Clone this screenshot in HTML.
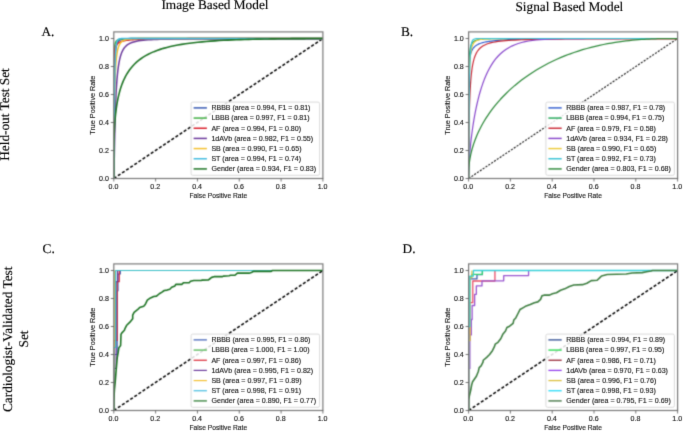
<!DOCTYPE html>
<html><head><meta charset="utf-8"><title>ROC curves</title>
<style>
html,body{margin:0;padding:0;background:#fff;}
body{width:685px;height:435px;overflow:hidden;}
svg{display:block;}
.tk{font-family:"Liberation Sans", sans-serif;font-size:6.9px;fill:#1a1a1a;stroke:#1a1a1a;stroke-width:0.14px;}
.al{font-family:"Liberation Sans", sans-serif;font-size:6.8px;fill:#1a1a1a;stroke:#1a1a1a;stroke-width:0.14px;}
.al2{font-family:"Liberation Sans", sans-serif;font-size:6.4px;fill:#1a1a1a;stroke:#1a1a1a;stroke-width:0.14px;}
.lg{font-family:"Liberation Sans", sans-serif;font-size:6.8px;fill:#1a1a1a;stroke:#1a1a1a;stroke-width:0.14px;}
.ti{font-family:"Liberation Serif", serif;font-size:13.3px;fill:#000;stroke:#000;stroke-width:0.15px;}
.ti2{font-size:13.3px;}
.ti{text-rendering:geometricPrecision;}
</style></head>
<body>
<svg width="685" height="435" viewBox="0 0 685 435">
<defs><filter id="soft" x="0" y="0" width="685" height="435" filterUnits="userSpaceOnUse" color-interpolation-filters="sRGB"><feConvolveMatrix order="3" kernelMatrix="1 4 1 4 16 4 1 4 1" divisor="36" edgeMode="duplicate"/></filter></defs>
<filter id="softt" x="0" y="0" width="685" height="435" filterUnits="userSpaceOnUse" color-interpolation-filters="sRGB"><feConvolveMatrix order="3" kernelMatrix="0 1 0 1 8 1 0 1 0" divisor="12" edgeMode="duplicate"/></filter>
<g filter="url(#soft)">
<rect width="685" height="435" fill="#fff"/>
<clipPath id="clipA"><rect x="113.80" y="31.90" width="209.10" height="146.60"/></clipPath>
<g clip-path="url(#clipA)">
<line x1="113.80" y1="178.50" x2="322.90" y2="38.50" stroke="#000" stroke-width="1.50" stroke-dasharray="3.10 1.85"/>
<path d="M113.80,178.50L113.80,178.34L113.80,178.28L113.80,178.19L113.80,178.08L113.80,177.93L113.80,177.73L113.80,177.47L113.80,177.14L113.80,176.72L113.80,176.19L113.80,175.53L113.81,174.72L113.81,173.74L113.81,172.55L113.81,171.13L113.81,169.45L113.82,167.50L113.82,165.24L113.83,162.65L113.83,159.72L113.84,156.44L113.85,152.81L113.86,148.82L113.87,144.50L113.88,139.85L113.90,134.91L113.92,129.72L113.94,124.31L113.97,118.74L114.00,113.07L114.04,107.35L114.09,101.64L114.14,96.00L114.20,90.50L114.27,85.17L114.36,80.07L114.45,75.25L114.56,70.73L114.69,66.54L114.83,62.69L115.00,59.20L115.19,56.06L115.40,53.27L115.65,50.82L115.92,48.68L116.23,46.84L116.58,45.27L116.97,43.95L117.41,42.84L117.90,41.93L118.44,41.19L119.05,40.58L119.72,40.10L120.45,39.72L121.27,39.42L122.16,39.18L123.13,39.01L124.20,38.87L125.36,38.77L126.62,38.69L127.98,38.64L129.46,38.60L131.05,38.57L132.76,38.55L134.59,38.53L136.54,38.52L138.63,38.51L140.85,38.51L143.20,38.51L145.68,38.50L148.30,38.50L151.06,38.50L153.95,38.50L156.97,38.50L160.13,38.50L163.41,38.50L166.82,38.50L170.35,38.50L173.99,38.50L177.73,38.50L181.58,38.50L185.52,38.50L189.54,38.50L193.64,38.50L197.80,38.50L202.01,38.50L206.27,38.50L210.56,38.50L214.87,38.50L219.19,38.50L223.51,38.50L227.81,38.50L232.09,38.50L236.33,38.50L240.53,38.50L244.66,38.50L248.73,38.50L252.72,38.50L256.63,38.50L260.44,38.50L264.14,38.50L267.74,38.50L271.22,38.50L274.58,38.50L277.81,38.50L280.92,38.50L283.89,38.50L286.73,38.50L289.43,38.50L292.00,38.50L294.43,38.50L296.73,38.50L298.90,38.50L300.93,38.50L302.84,38.50L304.62,38.50L306.28,38.50L307.83,38.50L309.26,38.50L310.58,38.50L311.80,38.50L312.93,38.50L313.96,38.50L314.90,38.50L315.76,38.50L316.54,38.50L317.25,38.50L317.89,38.50L318.47,38.50L319.00,38.50L319.46,38.50L319.88,38.50L320.26,38.50L320.59,38.50L320.89,38.50L321.15,38.50L321.38,38.50L321.59,38.50L321.77,38.50L321.93,38.50L322.90,38.50" fill="none" stroke="#3a5cb4" stroke-width="1.50" stroke-linejoin="round"/>
<path d="M113.80,178.50L113.80,150.53L113.80,147.94L113.80,145.22L113.80,142.36L113.80,139.38L113.80,136.29L113.80,133.10L113.80,129.81L113.80,126.43L113.80,122.98L113.80,119.48L113.81,115.93L113.81,112.35L113.81,108.75L113.81,105.15L113.81,101.57L113.82,98.01L113.82,94.50L113.83,91.04L113.83,87.66L113.84,84.35L113.85,81.14L113.86,78.04L113.87,75.04L113.88,72.17L113.90,69.43L113.92,66.82L113.94,64.34L113.97,62.01L114.00,59.81L114.04,57.76L114.09,55.84L114.14,54.06L114.20,52.42L114.27,50.91L114.36,49.52L114.45,48.25L114.56,47.10L114.69,46.06L114.83,45.12L115.00,44.28L115.19,43.52L115.40,42.85L115.65,42.26L115.92,41.73L116.23,41.27L116.58,40.86L116.97,40.51L117.41,40.20L117.90,39.94L118.44,39.71L119.05,39.51L119.72,39.35L120.45,39.20L121.27,39.08L122.16,38.98L123.13,38.90L124.20,38.82L125.36,38.76L126.62,38.71L127.98,38.67L129.46,38.64L131.05,38.61L132.76,38.59L134.59,38.57L136.54,38.56L138.63,38.55L140.85,38.54L143.20,38.53L145.68,38.52L148.30,38.52L151.06,38.51L153.95,38.51L156.97,38.51L160.13,38.51L163.41,38.50L166.82,38.50L170.35,38.50L173.99,38.50L177.73,38.50L181.58,38.50L185.52,38.50L189.54,38.50L193.64,38.50L197.80,38.50L202.01,38.50L206.27,38.50L210.56,38.50L214.87,38.50L219.19,38.50L223.51,38.50L227.81,38.50L232.09,38.50L236.33,38.50L240.53,38.50L244.66,38.50L248.73,38.50L252.72,38.50L256.63,38.50L260.44,38.50L264.14,38.50L267.74,38.50L271.22,38.50L274.58,38.50L277.81,38.50L280.92,38.50L283.89,38.50L286.73,38.50L289.43,38.50L292.00,38.50L294.43,38.50L296.73,38.50L298.90,38.50L300.93,38.50L302.84,38.50L304.62,38.50L306.28,38.50L307.83,38.50L309.26,38.50L310.58,38.50L311.80,38.50L312.93,38.50L313.96,38.50L314.90,38.50L315.76,38.50L316.54,38.50L317.25,38.50L317.89,38.50L318.47,38.50L319.00,38.50L319.46,38.50L319.88,38.50L320.26,38.50L320.59,38.50L320.89,38.50L321.15,38.50L321.38,38.50L321.59,38.50L321.77,38.50L321.93,38.50L322.90,38.50" fill="none" stroke="#42b045" stroke-width="1.50" stroke-linejoin="round"/>
<path d="M113.80,178.50L113.80,118.51L113.80,116.26L113.80,114.00L113.80,111.73L113.80,109.46L113.80,107.18L113.80,104.90L113.80,102.64L113.80,100.38L113.80,98.13L113.80,95.90L113.81,93.69L113.81,91.51L113.81,89.35L113.81,87.23L113.81,85.14L113.82,83.08L113.82,81.06L113.83,79.09L113.83,77.16L113.84,75.27L113.85,73.44L113.86,71.65L113.87,69.91L113.88,68.23L113.90,66.60L113.92,65.03L113.94,63.51L113.97,62.05L114.00,60.64L114.04,59.29L114.09,58.00L114.14,56.76L114.20,55.58L114.27,54.45L114.36,53.38L114.45,52.36L114.56,51.39L114.69,50.47L114.83,49.60L115.00,48.78L115.19,48.01L115.40,47.29L115.65,46.60L115.92,45.96L116.23,45.36L116.58,44.80L116.97,44.28L117.41,43.79L117.90,43.34L118.44,42.92L119.05,42.53L119.72,42.17L120.45,41.84L121.27,41.53L122.16,41.24L123.13,40.98L124.20,40.74L125.36,40.53L126.62,40.33L127.98,40.14L129.46,39.98L131.05,39.82L132.76,39.69L134.59,39.56L136.54,39.45L138.63,39.34L140.85,39.25L143.20,39.17L145.68,39.09L148.30,39.03L151.06,38.96L153.95,38.91L156.97,38.86L160.13,38.82L163.41,38.78L166.82,38.75L170.35,38.72L173.99,38.69L177.73,38.67L181.58,38.64L185.52,38.63L189.54,38.61L193.64,38.60L197.80,38.58L202.01,38.57L206.27,38.56L210.56,38.55L214.87,38.55L219.19,38.54L223.51,38.53L227.81,38.53L232.09,38.52L236.33,38.52L240.53,38.52L244.66,38.52L248.73,38.51L252.72,38.51L256.63,38.51L260.44,38.51L264.14,38.51L267.74,38.51L271.22,38.50L274.58,38.50L277.81,38.50L280.92,38.50L283.89,38.50L286.73,38.50L289.43,38.50L292.00,38.50L294.43,38.50L296.73,38.50L298.90,38.50L300.93,38.50L302.84,38.50L304.62,38.50L306.28,38.50L307.83,38.50L309.26,38.50L310.58,38.50L311.80,38.50L312.93,38.50L313.96,38.50L314.90,38.50L315.76,38.50L316.54,38.50L317.25,38.50L317.89,38.50L318.47,38.50L319.00,38.50L319.46,38.50L319.88,38.50L320.26,38.50L320.59,38.50L320.89,38.50L321.15,38.50L321.38,38.50L321.59,38.50L321.77,38.50L321.93,38.50L322.90,38.50" fill="none" stroke="#da2430" stroke-width="1.50" stroke-linejoin="round"/>
<path d="M113.80,178.50L113.80,178.50L113.80,178.50L113.80,178.50L113.80,178.50L113.80,178.50L113.80,178.50L113.80,178.50L113.80,178.50L113.80,178.50L113.80,178.50L113.80,178.50L113.81,178.50L113.81,178.50L113.81,178.50L113.81,178.50L113.81,178.50L113.82,178.50L113.82,178.49L113.83,178.48L113.83,178.47L113.84,178.44L113.85,178.39L113.86,178.29L113.87,178.15L113.88,177.91L113.90,177.55L113.92,177.01L113.94,176.24L113.97,175.18L114.00,173.75L114.04,171.89L114.09,169.53L114.14,166.61L114.20,163.11L114.27,159.01L114.36,154.31L114.45,149.05L114.56,143.29L114.69,137.11L114.83,130.60L115.00,123.89L115.19,117.07L115.40,110.27L115.65,103.59L115.92,97.12L116.23,90.94L116.58,85.12L116.97,79.70L117.41,74.70L117.90,70.15L118.44,66.04L119.05,62.37L119.72,59.11L120.45,56.23L121.27,53.72L122.16,51.54L123.13,49.65L124.20,48.02L125.36,46.62L126.62,45.43L127.98,44.42L129.46,43.55L131.05,42.82L132.76,42.20L134.59,41.68L136.54,41.24L138.63,40.86L140.85,40.55L143.20,40.28L145.68,40.06L148.30,39.86L151.06,39.70L153.95,39.57L156.97,39.45L160.13,39.35L163.41,39.27L166.82,39.20L170.35,39.14L173.99,39.09L177.73,39.04L181.58,39.01L185.52,38.98L189.54,38.95L193.64,38.93L197.80,38.91L202.01,38.90L206.27,38.89L210.56,38.89L214.87,38.88L219.19,38.88L223.51,38.88L227.81,38.88L232.09,38.88L236.33,38.88L240.53,38.88L244.66,38.88L248.73,38.88L252.72,38.88L256.63,38.88L260.44,38.88L264.14,38.88L267.74,38.88L271.22,38.88L274.58,38.88L277.81,38.88L280.92,38.88L283.89,38.88L286.73,38.88L289.43,38.88L292.00,38.88L294.43,38.88L296.73,38.88L298.90,38.88L300.93,38.88L302.84,38.88L304.62,38.88L306.28,38.88L307.83,38.88L309.26,38.88L310.58,38.88L311.80,38.88L312.93,38.88L313.96,38.88L314.90,38.88L315.76,38.88L316.54,38.88L317.25,38.88L317.89,38.88L318.47,38.88L319.00,38.88L319.46,38.88L319.88,38.88L320.26,38.88L320.59,38.88L320.89,38.88L321.15,38.88L321.38,38.88L321.59,38.88L321.77,38.88L321.93,38.88L322.90,38.50" fill="none" stroke="#6c3a9c" stroke-width="1.50" stroke-linejoin="round"/>
<path d="M113.80,178.50L113.80,178.47L113.80,178.46L113.80,178.44L113.80,178.41L113.80,178.38L113.80,178.33L113.80,178.26L113.80,178.17L113.80,178.05L113.80,177.88L113.80,177.68L113.81,177.40L113.81,177.06L113.81,176.62L113.81,176.07L113.81,175.39L113.82,174.56L113.82,173.55L113.83,172.34L113.83,170.89L113.84,169.20L113.85,167.22L113.86,164.94L113.87,162.33L113.88,159.39L113.90,156.11L113.92,152.48L113.94,148.50L113.97,144.19L114.00,139.56L114.04,134.65L114.09,129.49L114.14,124.13L114.20,118.61L114.27,112.99L114.36,107.32L114.45,101.66L114.56,96.07L114.69,90.61L114.83,85.33L115.00,80.27L115.19,75.48L115.40,70.98L115.65,66.80L115.92,62.97L116.23,59.48L116.58,56.34L116.97,53.54L117.41,51.08L117.90,48.92L118.44,47.06L119.05,45.47L119.72,44.13L120.45,43.00L121.27,42.07L122.16,41.31L123.13,40.68L124.20,40.18L125.36,39.79L126.62,39.47L127.98,39.23L129.46,39.04L131.05,38.90L132.76,38.79L134.59,38.71L136.54,38.65L138.63,38.61L140.85,38.57L143.20,38.55L145.68,38.54L148.30,38.52L151.06,38.52L153.95,38.51L156.97,38.51L160.13,38.50L163.41,38.50L166.82,38.50L170.35,38.50L173.99,38.50L177.73,38.50L181.58,38.50L185.52,38.50L189.54,38.50L193.64,38.50L197.80,38.50L202.01,38.50L206.27,38.50L210.56,38.50L214.87,38.50L219.19,38.50L223.51,38.50L227.81,38.50L232.09,38.50L236.33,38.50L240.53,38.50L244.66,38.50L248.73,38.50L252.72,38.50L256.63,38.50L260.44,38.50L264.14,38.50L267.74,38.50L271.22,38.50L274.58,38.50L277.81,38.50L280.92,38.50L283.89,38.50L286.73,38.50L289.43,38.50L292.00,38.50L294.43,38.50L296.73,38.50L298.90,38.50L300.93,38.50L302.84,38.50L304.62,38.50L306.28,38.50L307.83,38.50L309.26,38.50L310.58,38.50L311.80,38.50L312.93,38.50L313.96,38.50L314.90,38.50L315.76,38.50L316.54,38.50L317.25,38.50L317.89,38.50L318.47,38.50L319.00,38.50L319.46,38.50L319.88,38.50L320.26,38.50L320.59,38.50L320.89,38.50L321.15,38.50L321.38,38.50L321.59,38.50L321.77,38.50L321.93,38.50L322.90,38.50" fill="none" stroke="#f4c030" stroke-width="1.50" stroke-linejoin="round"/>
<path d="M113.80,178.50L113.80,178.50L113.80,178.50L113.80,178.50L113.80,178.50L113.80,178.50L113.80,178.50L113.80,178.50L113.80,178.50L113.80,178.50L113.80,178.50L113.80,178.50L113.81,178.50L113.81,178.49L113.81,178.49L113.81,178.47L113.81,178.45L113.82,178.41L113.82,178.34L113.83,178.22L113.83,178.02L113.84,177.72L113.85,177.26L113.86,176.56L113.87,175.56L113.88,174.16L113.90,172.24L113.92,169.68L113.94,166.38L113.97,162.23L114.00,157.16L114.04,151.15L114.09,144.20L114.14,136.40L114.20,127.88L114.27,118.84L114.36,109.52L114.45,100.17L114.56,91.05L114.69,82.40L114.83,74.43L115.00,67.29L115.19,61.07L115.40,55.79L115.65,51.45L115.92,47.97L116.23,45.26L116.58,43.21L116.97,41.70L117.41,40.62L117.90,39.87L118.44,39.37L119.05,39.03L119.72,38.82L120.45,38.69L121.27,38.61L122.16,38.56L123.13,38.53L124.20,38.52L125.36,38.51L126.62,38.50L127.98,38.50L129.46,38.50L131.05,38.50L132.76,38.50L134.59,38.50L136.54,38.50L138.63,38.50L140.85,38.50L143.20,38.50L145.68,38.50L148.30,38.50L151.06,38.50L153.95,38.50L156.97,38.50L160.13,38.50L163.41,38.50L166.82,38.50L170.35,38.50L173.99,38.50L177.73,38.50L181.58,38.50L185.52,38.50L189.54,38.50L193.64,38.50L197.80,38.50L202.01,38.50L206.27,38.50L210.56,38.50L214.87,38.50L219.19,38.50L223.51,38.50L227.81,38.50L232.09,38.50L236.33,38.50L240.53,38.50L244.66,38.50L248.73,38.50L252.72,38.50L256.63,38.50L260.44,38.50L264.14,38.50L267.74,38.50L271.22,38.50L274.58,38.50L277.81,38.50L280.92,38.50L283.89,38.50L286.73,38.50L289.43,38.50L292.00,38.50L294.43,38.50L296.73,38.50L298.90,38.50L300.93,38.50L302.84,38.50L304.62,38.50L306.28,38.50L307.83,38.50L309.26,38.50L310.58,38.50L311.80,38.50L312.93,38.50L313.96,38.50L314.90,38.50L315.76,38.50L316.54,38.50L317.25,38.50L317.89,38.50L318.47,38.50L319.00,38.50L319.46,38.50L319.88,38.50L320.26,38.50L320.59,38.50L320.89,38.50L321.15,38.50L321.38,38.50L321.59,38.50L321.77,38.50L321.93,38.50L322.90,38.50" fill="none" stroke="#44bce0" stroke-width="1.50" stroke-linejoin="round"/>
<path d="M113.80,178.50L113.80,158.00L113.80,158.00L113.80,158.00L113.80,158.00L113.80,158.00L113.80,158.00L113.80,158.00L113.80,157.86L113.80,157.66L113.80,157.40L113.80,157.10L113.81,156.74L113.81,156.34L113.81,155.90L113.81,155.40L113.81,154.84L113.82,154.24L113.82,153.58L113.83,152.87L113.83,152.09L113.84,151.26L113.85,150.37L113.86,149.42L113.87,148.41L113.88,147.33L113.90,146.18L113.92,144.97L113.94,143.69L113.97,142.33L114.00,140.91L114.04,139.41L114.09,137.85L114.14,136.21L114.20,134.49L114.27,132.71L114.36,130.86L114.45,128.93L114.56,126.94L114.69,124.88L114.83,122.76L115.00,120.57L115.19,118.33L115.40,116.03L115.65,113.69L115.92,111.30L116.23,108.87L116.58,106.41L116.97,103.92L117.41,101.41L117.90,98.89L118.44,96.36L119.05,93.83L119.72,91.30L120.45,88.79L121.27,86.30L122.16,83.84L123.13,81.42L124.20,79.04L125.36,76.70L126.62,74.42L127.98,72.21L129.46,70.05L131.05,67.97L132.76,65.97L134.59,64.04L136.54,62.19L138.63,60.42L140.85,58.74L143.20,57.15L145.68,55.64L148.30,54.22L151.06,52.88L153.95,51.63L156.97,50.46L160.13,49.37L163.41,48.36L166.82,47.42L170.35,46.56L173.99,45.76L177.73,45.03L181.58,44.36L185.52,43.75L189.54,43.20L193.64,42.70L197.80,42.24L202.01,41.83L206.27,41.46L210.56,41.13L214.87,40.83L219.19,40.56L223.51,40.32L227.81,40.11L232.09,39.92L236.33,39.75L240.53,39.60L244.66,39.47L248.73,39.35L252.72,39.25L256.63,39.16L260.44,39.08L264.14,39.01L267.74,38.95L271.22,38.89L274.58,38.85L277.81,38.81L280.92,38.77L283.89,38.74L286.73,38.71L289.43,38.69L292.00,38.66L294.43,38.65L296.73,38.63L298.90,38.61L300.93,38.60L302.84,38.59L304.62,38.58L306.28,38.57L307.83,38.57L309.26,38.56L310.58,38.55L311.80,38.55L312.93,38.54L313.96,38.54L314.90,38.54L315.76,38.53L316.54,38.53L317.25,38.53L317.89,38.53L318.47,38.53L319.00,38.52L319.46,38.52L319.88,38.52L320.26,38.52L320.59,38.52L320.89,38.52L321.15,38.52L321.38,38.52L321.59,38.52L321.77,38.52L321.93,38.52L322.90,38.50" fill="none" stroke="#1f7526" stroke-width="1.60" stroke-linejoin="round"/>
</g>
<rect x="113.80" y="31.90" width="209.10" height="146.60" fill="none" stroke="#7a7a7a" stroke-width="1.2"/>
<line x1="113.80" y1="178.50" x2="113.80" y2="181.50" stroke="#555" stroke-width="0.8"/>
<line x1="110.80" y1="178.50" x2="113.80" y2="178.50" stroke="#555" stroke-width="0.8"/>
<line x1="155.62" y1="178.50" x2="155.62" y2="181.50" stroke="#555" stroke-width="0.8"/>
<line x1="110.80" y1="150.50" x2="113.80" y2="150.50" stroke="#555" stroke-width="0.8"/>
<line x1="197.44" y1="178.50" x2="197.44" y2="181.50" stroke="#555" stroke-width="0.8"/>
<line x1="110.80" y1="122.50" x2="113.80" y2="122.50" stroke="#555" stroke-width="0.8"/>
<line x1="239.26" y1="178.50" x2="239.26" y2="181.50" stroke="#555" stroke-width="0.8"/>
<line x1="110.80" y1="94.50" x2="113.80" y2="94.50" stroke="#555" stroke-width="0.8"/>
<line x1="281.08" y1="178.50" x2="281.08" y2="181.50" stroke="#555" stroke-width="0.8"/>
<line x1="110.80" y1="66.50" x2="113.80" y2="66.50" stroke="#555" stroke-width="0.8"/>
<line x1="322.90" y1="178.50" x2="322.90" y2="181.50" stroke="#555" stroke-width="0.8"/>
<line x1="110.80" y1="38.50" x2="113.80" y2="38.50" stroke="#555" stroke-width="0.8"/>
<rect x="191.10" y="102.10" width="128.50" height="73.20" rx="1.6" fill="#fff" fill-opacity="0.85" stroke="#d6d6d6" stroke-width="0.9"/>
<line x1="193.60" y1="107.90" x2="206.90" y2="107.90" stroke="#3a5cb4" stroke-width="1.50"/>
<line x1="193.60" y1="118.07" x2="206.90" y2="118.07" stroke="#42b045" stroke-width="1.50"/>
<line x1="193.60" y1="128.24" x2="206.90" y2="128.24" stroke="#da2430" stroke-width="1.50"/>
<line x1="193.60" y1="138.41" x2="206.90" y2="138.41" stroke="#6c3a9c" stroke-width="1.50"/>
<line x1="193.60" y1="148.58" x2="206.90" y2="148.58" stroke="#f4c030" stroke-width="1.50"/>
<line x1="193.60" y1="158.75" x2="206.90" y2="158.75" stroke="#44bce0" stroke-width="1.50"/>
<line x1="193.60" y1="168.92" x2="206.90" y2="168.92" stroke="#1f7526" stroke-width="1.50"/>
<clipPath id="clipB"><rect x="468.60" y="31.90" width="209.00" height="146.60"/></clipPath>
<g clip-path="url(#clipB)">
<line x1="468.60" y1="178.50" x2="677.60" y2="38.50" stroke="#1a1a1a" stroke-width="1.10" stroke-dasharray="2.10 1.30"/>
<path d="M468.60,178.50L468.60,138.83L468.60,136.86L468.60,134.85L468.60,132.80L468.60,130.71L468.60,128.58L468.60,126.42L468.60,124.24L468.60,122.02L468.60,119.79L468.60,117.54L468.61,115.27L468.61,112.99L468.61,110.70L468.61,108.41L468.61,106.12L468.62,103.83L468.62,101.55L468.63,99.28L468.63,97.03L468.64,94.80L468.65,92.59L468.66,90.40L468.67,88.25L468.68,86.12L468.70,84.04L468.72,81.99L468.74,79.98L468.77,78.02L468.80,76.10L468.84,74.23L468.89,72.41L468.94,70.64L469.00,68.92L469.07,67.26L469.16,65.65L469.25,64.10L469.36,62.61L469.49,61.17L469.63,59.79L469.80,58.47L469.99,57.20L470.20,55.99L470.45,54.84L470.72,53.74L471.03,52.69L471.38,51.70L471.77,50.76L472.21,49.87L472.70,49.03L473.24,48.24L473.85,47.50L474.51,46.80L475.25,46.14L476.06,45.53L476.95,44.95L477.93,44.41L478.99,43.91L480.15,43.45L481.41,43.02L482.78,42.62L484.25,42.25L485.84,41.91L487.55,41.59L489.38,41.30L491.33,41.03L493.42,40.79L495.63,40.57L497.98,40.36L500.47,40.17L503.09,40.00L505.84,39.85L508.73,39.71L511.75,39.58L514.91,39.46L518.19,39.36L521.60,39.26L525.12,39.18L528.76,39.10L532.50,39.03L536.35,38.97L540.28,38.92L544.31,38.87L548.40,38.82L552.56,38.78L556.77,38.75L561.03,38.72L565.31,38.69L569.62,38.67L573.94,38.65L578.26,38.63L582.56,38.61L586.83,38.60L591.07,38.58L595.27,38.57L599.40,38.56L603.47,38.55L607.46,38.55L611.36,38.54L615.17,38.53L618.87,38.53L622.46,38.52L625.94,38.52L629.30,38.52L632.53,38.52L635.64,38.51L638.61,38.51L641.45,38.51L644.15,38.51L646.72,38.51L649.15,38.51L651.44,38.50L653.61,38.50L655.64,38.50L657.55,38.50L659.33,38.50L660.99,38.50L662.53,38.50L663.97,38.50L665.29,38.50L666.51,38.50L667.63,38.50L668.66,38.50L669.60,38.50L670.46,38.50L671.24,38.50L671.95,38.50L672.60,38.50L673.18,38.50L673.70,38.50L674.17,38.50L674.59,38.50L674.96,38.50L675.29,38.50L675.59,38.50L675.85,38.50L676.08,38.50L676.29,38.50L676.47,38.50L676.63,38.50L677.60,38.50" fill="none" stroke="#3560d0" stroke-width="1.20" stroke-linejoin="round"/>
<path d="M468.60,178.50L468.60,163.88L468.60,162.17L468.60,160.33L468.60,158.35L468.60,156.23L468.60,153.97L468.60,151.56L468.60,149.02L468.60,146.35L468.60,143.54L468.60,140.60L468.61,137.55L468.61,134.39L468.61,131.13L468.61,127.78L468.61,124.35L468.62,120.86L468.62,117.32L468.63,113.74L468.63,110.14L468.64,106.53L468.65,102.93L468.66,99.36L468.67,95.82L468.68,92.33L468.70,88.91L468.72,85.57L468.74,82.32L468.77,79.16L468.80,76.12L468.84,73.20L468.89,70.40L468.94,67.74L469.00,65.21L469.07,62.82L469.16,60.57L469.25,58.46L469.36,56.49L469.49,54.66L469.63,52.97L469.80,51.41L469.99,49.98L470.20,48.67L470.45,47.48L470.72,46.40L471.03,45.42L471.38,44.55L471.77,43.76L472.21,43.06L472.70,42.44L473.24,41.89L473.85,41.41L474.51,40.99L475.25,40.62L476.06,40.30L476.95,40.02L477.93,39.78L478.99,39.57L480.15,39.39L481.41,39.24L482.78,39.12L484.25,39.01L485.84,38.92L487.55,38.84L489.38,38.78L491.33,38.73L493.42,38.68L495.63,38.65L497.98,38.62L500.47,38.60L503.09,38.58L505.84,38.56L508.73,38.55L511.75,38.54L514.91,38.53L518.19,38.52L521.60,38.52L525.12,38.51L528.76,38.51L532.50,38.51L536.35,38.51L540.28,38.50L544.31,38.50L548.40,38.50L552.56,38.50L556.77,38.50L561.03,38.50L565.31,38.50L569.62,38.50L573.94,38.50L578.26,38.50L582.56,38.50L586.83,38.50L591.07,38.50L595.27,38.50L599.40,38.50L603.47,38.50L607.46,38.50L611.36,38.50L615.17,38.50L618.87,38.50L622.46,38.50L625.94,38.50L629.30,38.50L632.53,38.50L635.64,38.50L638.61,38.50L641.45,38.50L644.15,38.50L646.72,38.50L649.15,38.50L651.44,38.50L653.61,38.50L655.64,38.50L657.55,38.50L659.33,38.50L660.99,38.50L662.53,38.50L663.97,38.50L665.29,38.50L666.51,38.50L667.63,38.50L668.66,38.50L669.60,38.50L670.46,38.50L671.24,38.50L671.95,38.50L672.60,38.50L673.18,38.50L673.70,38.50L674.17,38.50L674.59,38.50L674.96,38.50L675.29,38.50L675.59,38.50L675.85,38.50L676.08,38.50L676.29,38.50L676.47,38.50L676.63,38.50L677.60,38.50" fill="none" stroke="#26a85c" stroke-width="1.20" stroke-linejoin="round"/>
<path d="M468.60,178.50L468.60,178.50L468.60,178.50L468.60,178.50L468.60,178.49L468.60,178.49L468.60,178.48L468.60,178.46L468.60,178.44L468.60,178.41L468.60,178.36L468.60,178.28L468.61,178.18L468.61,178.03L468.61,177.83L468.61,177.56L468.61,177.20L468.62,176.72L468.62,176.12L468.63,175.35L468.63,174.40L468.64,173.24L468.65,171.84L468.66,170.18L468.67,168.24L468.68,165.99L468.70,163.44L468.72,160.57L468.74,157.38L468.77,153.89L468.80,150.10L468.84,146.04L468.89,141.74L468.94,137.23L469.00,132.54L469.07,127.73L469.16,122.82L469.25,117.87L469.36,112.92L469.49,108.00L469.63,103.17L469.80,98.45L469.99,93.87L470.20,89.46L470.45,85.25L470.72,81.24L471.03,77.46L471.38,73.91L471.77,70.59L472.21,67.51L472.70,64.66L473.24,62.04L473.85,59.63L474.51,57.44L475.25,55.44L476.06,53.63L476.95,52.00L477.93,50.53L478.99,49.21L480.15,48.03L481.41,46.97L482.78,46.03L484.25,45.19L485.84,44.44L487.55,43.78L489.38,43.20L491.33,42.68L493.42,42.22L495.63,41.81L497.98,41.45L500.47,41.14L503.09,40.86L505.84,40.61L508.73,40.39L511.75,40.20L514.91,40.03L518.19,39.88L521.60,39.75L525.12,39.63L528.76,39.53L532.50,39.44L536.35,39.36L540.28,39.28L544.31,39.22L548.40,39.16L552.56,39.11L556.77,39.07L561.03,39.03L565.31,39.00L569.62,38.96L573.94,38.94L578.26,38.91L582.56,38.89L586.83,38.87L591.07,38.86L595.27,38.84L599.40,38.83L603.47,38.82L607.46,38.81L611.36,38.80L615.17,38.79L618.87,38.79L622.46,38.78L625.94,38.78L629.30,38.78L632.53,38.78L635.64,38.78L638.61,38.78L641.45,38.78L644.15,38.78L646.72,38.78L649.15,38.78L651.44,38.78L653.61,38.78L655.64,38.78L657.55,38.78L659.33,38.78L660.99,38.78L662.53,38.78L663.97,38.78L665.29,38.78L666.51,38.78L667.63,38.78L668.66,38.78L669.60,38.78L670.46,38.78L671.24,38.78L671.95,38.78L672.60,38.78L673.18,38.78L673.70,38.78L674.17,38.78L674.59,38.78L674.96,38.78L675.29,38.78L675.59,38.78L675.85,38.78L676.08,38.78L676.29,38.78L676.47,38.78L676.63,38.78L677.60,38.50" fill="none" stroke="#cc2c38" stroke-width="1.20" stroke-linejoin="round"/>
<path d="M468.60,178.50L468.60,176.57L468.60,176.53L468.60,176.47L468.60,176.41L468.60,176.34L468.60,176.27L468.60,176.18L468.60,176.08L468.60,175.97L468.60,175.86L468.60,175.72L468.61,175.58L468.61,175.42L468.61,175.24L468.61,175.04L468.61,174.83L468.62,174.59L468.62,174.33L468.63,174.04L468.63,173.73L468.64,173.38L468.65,172.99L468.66,172.57L468.67,172.11L468.68,171.60L468.70,171.05L468.72,170.43L468.74,169.76L468.77,169.03L468.80,168.22L468.84,167.34L468.89,166.38L468.94,165.32L469.00,164.17L469.07,162.92L469.16,161.56L469.25,160.08L469.36,158.47L469.49,156.74L469.63,154.86L469.80,152.85L469.99,150.68L470.20,148.35L470.45,145.87L470.72,143.22L471.03,140.40L471.38,137.43L471.77,134.29L472.21,130.99L472.70,127.53L473.24,123.94L473.85,120.21L474.51,116.35L475.25,112.40L476.06,108.35L476.95,104.25L477.93,100.10L478.99,95.93L480.15,91.76L481.41,87.64L482.78,83.57L484.25,79.60L485.84,75.74L487.55,72.02L489.38,68.46L491.33,65.09L493.42,61.92L495.63,58.97L497.98,56.25L500.47,53.75L503.09,51.49L505.84,49.47L508.73,47.67L511.75,46.09L514.91,44.72L518.19,43.54L521.60,42.54L525.12,41.70L528.76,41.01L532.50,40.44L536.35,39.98L540.28,39.62L544.31,39.33L548.40,39.11L552.56,38.94L556.77,38.82L561.03,38.72L565.31,38.65L569.62,38.61L573.94,38.57L578.26,38.55L582.56,38.53L586.83,38.52L591.07,38.51L595.27,38.51L599.40,38.50L603.47,38.50L607.46,38.50L611.36,38.50L615.17,38.50L618.87,38.50L622.46,38.50L625.94,38.50L629.30,38.50L632.53,38.50L635.64,38.50L638.61,38.50L641.45,38.50L644.15,38.50L646.72,38.50L649.15,38.50L651.44,38.50L653.61,38.50L655.64,38.50L657.55,38.50L659.33,38.50L660.99,38.50L662.53,38.50L663.97,38.50L665.29,38.50L666.51,38.50L667.63,38.50L668.66,38.50L669.60,38.50L670.46,38.50L671.24,38.50L671.95,38.50L672.60,38.50L673.18,38.50L673.70,38.50L674.17,38.50L674.59,38.50L674.96,38.50L675.29,38.50L675.59,38.50L675.85,38.50L676.08,38.50L676.29,38.50L676.47,38.50L676.63,38.50L677.60,38.50" fill="none" stroke="#8848cc" stroke-width="1.20" stroke-linejoin="round"/>
<path d="M468.60,178.50L468.60,177.62L468.60,177.38L468.60,177.09L468.60,176.74L468.60,176.31L468.60,175.79L468.60,175.18L468.60,174.45L468.60,173.60L468.60,172.60L468.60,171.45L468.61,170.12L468.61,168.60L468.61,166.88L468.61,164.95L468.61,162.79L468.62,160.39L468.62,157.76L468.63,154.87L468.63,151.74L468.64,148.37L468.65,144.77L468.66,140.94L468.67,136.90L468.68,132.68L468.70,128.29L468.72,123.77L468.74,119.14L468.77,114.43L468.80,109.67L468.84,104.91L468.89,100.18L468.94,95.51L469.00,90.92L469.07,86.47L469.16,82.16L469.25,78.03L469.36,74.10L469.49,70.38L469.63,66.89L469.80,63.64L469.99,60.64L470.20,57.88L470.45,55.36L470.72,53.09L471.03,51.04L471.38,49.22L471.77,47.60L472.21,46.19L472.70,44.95L473.24,43.87L473.85,42.95L474.51,42.16L475.25,41.50L476.06,40.94L476.95,40.47L477.93,40.08L478.99,39.76L480.15,39.49L481.41,39.28L482.78,39.11L484.25,38.97L485.84,38.87L487.55,38.78L489.38,38.71L491.33,38.66L493.42,38.62L495.63,38.59L497.98,38.57L500.47,38.55L503.09,38.54L505.84,38.53L508.73,38.52L511.75,38.51L514.91,38.51L518.19,38.51L521.60,38.50L525.12,38.50L528.76,38.50L532.50,38.50L536.35,38.50L540.28,38.50L544.31,38.50L548.40,38.50L552.56,38.50L556.77,38.50L561.03,38.50L565.31,38.50L569.62,38.50L573.94,38.50L578.26,38.50L582.56,38.50L586.83,38.50L591.07,38.50L595.27,38.50L599.40,38.50L603.47,38.50L607.46,38.50L611.36,38.50L615.17,38.50L618.87,38.50L622.46,38.50L625.94,38.50L629.30,38.50L632.53,38.50L635.64,38.50L638.61,38.50L641.45,38.50L644.15,38.50L646.72,38.50L649.15,38.50L651.44,38.50L653.61,38.50L655.64,38.50L657.55,38.50L659.33,38.50L660.99,38.50L662.53,38.50L663.97,38.50L665.29,38.50L666.51,38.50L667.63,38.50L668.66,38.50L669.60,38.50L670.46,38.50L671.24,38.50L671.95,38.50L672.60,38.50L673.18,38.50L673.70,38.50L674.17,38.50L674.59,38.50L674.96,38.50L675.29,38.50L675.59,38.50L675.85,38.50L676.08,38.50L676.29,38.50L676.47,38.50L676.63,38.50L677.60,38.50" fill="none" stroke="#ecca3c" stroke-width="1.20" stroke-linejoin="round"/>
<path d="M468.60,178.50L468.60,178.50L468.60,178.50L468.60,178.50L468.60,178.50L468.60,178.50L468.60,178.50L468.60,178.50L468.60,178.50L468.60,178.50L468.60,178.50L468.60,178.49L468.61,178.49L468.61,178.48L468.61,178.46L468.61,178.43L468.61,178.39L468.62,178.31L468.62,178.18L468.63,177.98L468.63,177.67L468.64,177.21L468.65,176.55L468.66,175.61L468.67,174.31L468.68,172.56L468.70,170.26L468.72,167.32L468.74,163.64L468.77,159.16L468.80,153.84L468.84,147.67L468.89,140.70L468.94,133.02L469.00,124.77L469.07,116.12L469.16,107.28L469.25,98.47L469.36,89.92L469.49,81.81L469.63,74.31L469.80,67.55L469.99,61.61L470.20,56.52L470.45,52.27L470.72,48.80L471.03,46.04L471.38,43.91L471.77,42.29L472.21,41.10L472.70,40.24L473.24,39.64L473.85,39.23L474.51,38.96L475.25,38.78L476.06,38.67L476.95,38.60L477.93,38.56L478.99,38.53L480.15,38.52L481.41,38.51L482.78,38.50L484.25,38.50L485.84,38.50L487.55,38.50L489.38,38.50L491.33,38.50L493.42,38.50L495.63,38.50L497.98,38.50L500.47,38.50L503.09,38.50L505.84,38.50L508.73,38.50L511.75,38.50L514.91,38.50L518.19,38.50L521.60,38.50L525.12,38.50L528.76,38.50L532.50,38.50L536.35,38.50L540.28,38.50L544.31,38.50L548.40,38.50L552.56,38.50L556.77,38.50L561.03,38.50L565.31,38.50L569.62,38.50L573.94,38.50L578.26,38.50L582.56,38.50L586.83,38.50L591.07,38.50L595.27,38.50L599.40,38.50L603.47,38.50L607.46,38.50L611.36,38.50L615.17,38.50L618.87,38.50L622.46,38.50L625.94,38.50L629.30,38.50L632.53,38.50L635.64,38.50L638.61,38.50L641.45,38.50L644.15,38.50L646.72,38.50L649.15,38.50L651.44,38.50L653.61,38.50L655.64,38.50L657.55,38.50L659.33,38.50L660.99,38.50L662.53,38.50L663.97,38.50L665.29,38.50L666.51,38.50L667.63,38.50L668.66,38.50L669.60,38.50L670.46,38.50L671.24,38.50L671.95,38.50L672.60,38.50L673.18,38.50L673.70,38.50L674.17,38.50L674.59,38.50L674.96,38.50L675.29,38.50L675.59,38.50L675.85,38.50L676.08,38.50L676.29,38.50L676.47,38.50L676.63,38.50L677.60,38.50" fill="none" stroke="#3cc4d6" stroke-width="1.20" stroke-linejoin="round"/>
<path d="M468.60,178.50L468.60,176.45L468.60,176.36L468.60,176.26L468.60,176.15L468.60,176.04L468.60,175.92L468.60,175.80L468.60,175.66L468.60,175.51L468.60,175.36L468.60,175.19L468.61,175.02L468.61,174.83L468.61,174.63L468.61,174.41L468.61,174.18L468.62,173.93L468.62,173.67L468.63,173.39L468.63,173.09L468.64,172.77L468.65,172.43L468.66,172.06L468.67,171.68L468.68,171.26L468.70,170.82L468.72,170.35L468.74,169.85L468.77,169.31L468.80,168.75L468.84,168.14L468.89,167.50L468.94,166.82L469.00,166.09L469.07,165.32L469.16,164.50L469.25,163.64L469.36,162.72L469.49,161.75L469.63,160.73L469.80,159.64L469.99,158.50L470.20,157.29L470.45,156.02L470.72,154.69L471.03,153.28L471.38,151.81L471.77,150.27L472.21,148.65L472.70,146.96L473.24,145.20L473.85,143.36L474.51,141.45L475.25,139.46L476.06,137.40L476.95,135.26L477.93,133.05L478.99,130.78L480.15,128.43L481.41,126.02L482.78,123.55L484.25,121.02L485.84,118.44L487.55,115.80L489.38,113.13L491.33,110.41L493.42,107.67L495.63,104.89L497.98,102.10L500.47,99.30L503.09,96.50L505.84,93.70L508.73,90.91L511.75,88.14L514.91,85.40L518.19,82.70L521.60,80.05L525.12,77.44L528.76,74.90L532.50,72.42L536.35,70.02L540.28,67.69L544.31,65.45L548.40,63.31L552.56,61.25L556.77,59.30L561.03,57.44L565.31,55.69L569.62,54.04L573.94,52.50L578.26,51.06L582.56,49.72L586.83,48.49L591.07,47.35L595.27,46.31L599.40,45.36L603.47,44.50L607.46,43.72L611.36,43.02L615.17,42.40L618.87,41.85L622.46,41.36L625.94,40.93L629.30,40.55L632.53,40.22L635.64,39.94L638.61,39.70L641.45,39.49L644.15,39.31L646.72,39.16L649.15,39.04L651.44,38.94L653.61,38.85L655.64,38.78L657.55,38.72L659.33,38.67L660.99,38.64L662.53,38.61L663.97,38.58L665.29,38.56L666.51,38.55L667.63,38.54L668.66,38.53L669.60,38.52L670.46,38.51L671.24,38.51L671.95,38.51L672.60,38.51L673.18,38.50L673.70,38.50L674.17,38.50L674.59,38.50L674.96,38.50L675.29,38.50L675.59,38.50L675.85,38.50L676.08,38.50L676.29,38.50L676.47,38.50L676.63,38.50L677.60,38.50" fill="none" stroke="#2f8a3c" stroke-width="1.25" stroke-linejoin="round"/>
</g>
<rect x="468.60" y="31.90" width="209.00" height="146.60" fill="none" stroke="#7a7a7a" stroke-width="1.2"/>
<line x1="468.60" y1="178.50" x2="468.60" y2="181.50" stroke="#555" stroke-width="0.8"/>
<line x1="465.60" y1="178.50" x2="468.60" y2="178.50" stroke="#555" stroke-width="0.8"/>
<line x1="510.40" y1="178.50" x2="510.40" y2="181.50" stroke="#555" stroke-width="0.8"/>
<line x1="465.60" y1="150.50" x2="468.60" y2="150.50" stroke="#555" stroke-width="0.8"/>
<line x1="552.20" y1="178.50" x2="552.20" y2="181.50" stroke="#555" stroke-width="0.8"/>
<line x1="465.60" y1="122.50" x2="468.60" y2="122.50" stroke="#555" stroke-width="0.8"/>
<line x1="594.00" y1="178.50" x2="594.00" y2="181.50" stroke="#555" stroke-width="0.8"/>
<line x1="465.60" y1="94.50" x2="468.60" y2="94.50" stroke="#555" stroke-width="0.8"/>
<line x1="635.80" y1="178.50" x2="635.80" y2="181.50" stroke="#555" stroke-width="0.8"/>
<line x1="465.60" y1="66.50" x2="468.60" y2="66.50" stroke="#555" stroke-width="0.8"/>
<line x1="677.60" y1="178.50" x2="677.60" y2="181.50" stroke="#555" stroke-width="0.8"/>
<line x1="465.60" y1="38.50" x2="468.60" y2="38.50" stroke="#555" stroke-width="0.8"/>
<rect x="545.90" y="102.10" width="128.50" height="73.20" rx="1.6" fill="#fff" fill-opacity="0.85" stroke="#d6d6d6" stroke-width="0.9"/>
<line x1="548.40" y1="107.90" x2="561.70" y2="107.90" stroke="#3560d0" stroke-width="1.45"/>
<line x1="548.40" y1="118.07" x2="561.70" y2="118.07" stroke="#26a85c" stroke-width="1.45"/>
<line x1="548.40" y1="128.24" x2="561.70" y2="128.24" stroke="#cc2c38" stroke-width="1.45"/>
<line x1="548.40" y1="138.41" x2="561.70" y2="138.41" stroke="#8848cc" stroke-width="1.45"/>
<line x1="548.40" y1="148.58" x2="561.70" y2="148.58" stroke="#ecca3c" stroke-width="1.45"/>
<line x1="548.40" y1="158.75" x2="561.70" y2="158.75" stroke="#3cc4d6" stroke-width="1.45"/>
<line x1="548.40" y1="168.92" x2="561.70" y2="168.92" stroke="#2f8a3c" stroke-width="1.45"/>
<clipPath id="clipC"><rect x="113.80" y="263.90" width="209.10" height="146.60"/></clipPath>
<g clip-path="url(#clipC)">
<line x1="113.80" y1="410.50" x2="322.90" y2="270.50" stroke="#000" stroke-width="1.50" stroke-dasharray="3.10 1.85"/>
<path d="M113.80,410.50L113.80,354.50L117.15,354.50L117.15,290.80L117.98,290.80L117.98,274.00L120.28,274.00L120.28,270.50" fill="none" stroke="#3a5cb4" stroke-width="1.20" stroke-linejoin="round"/>
<path d="M113.80,410.50L113.80,270.50" fill="none" stroke="#38b0a0" stroke-width="1.20" stroke-linejoin="round"/>
<path d="M113.80,410.50L113.80,340.50L117.15,340.50L117.15,281.70L119.24,281.70L119.24,270.50" fill="none" stroke="#da2430" stroke-width="1.20" stroke-linejoin="round"/>
<path d="M113.80,410.50L113.80,368.50L116.10,368.50L116.10,281.70L117.56,281.70L117.56,270.50" fill="none" stroke="#6c3a9c" stroke-width="1.20" stroke-linejoin="round"/>
<path d="M113.80,410.50L113.80,347.50L114.85,347.50L114.85,270.50" fill="none" stroke="#f4c030" stroke-width="1.20" stroke-linejoin="round"/>
<path d="M113.80,410.50L113.80,347.50L115.68,347.50L115.68,270.50L322.90,270.50" fill="none" stroke="#3cc0c8" stroke-width="1.20" stroke-linejoin="round"/>
<path d="M113.80,410.50L113.80,400.56L114.43,389.92L115.26,381.38L116.10,370.88L117.21,357.86L118.19,352.40L118.90,347.64L120.60,345.54L120.99,334.48L121.70,333.08L124.40,330.28L125.09,328.32L126.49,325.52L129.90,322.16L132.70,318.66L132.70,315.16L134.10,312.36L137.49,309.70L139.60,307.60L143.70,306.20L145.00,304.80L145.79,303.40L147.30,300.18L150.50,297.94L153.70,296.54L156.50,296.12L159.30,293.74L161.60,292.34L164.30,290.52L167.10,290.10L169.80,289.26L171.70,287.30L174.90,285.90L175.80,284.36L181.80,284.36L183.60,282.68L189.20,282.68L190.50,281.28L193.80,280.44L201.10,280.44L201.79,280.16L208.21,280.02L209.90,278.76L211.70,277.36L214.00,276.66L222.20,276.66L223.39,276.10L229.20,275.68L230.39,275.26L234.99,275.26L237.40,273.16L249.00,273.16L251.41,272.46L253.69,271.34L271.19,271.34L272.40,270.50L322.90,270.50" fill="none" stroke="#1f7526" stroke-width="1.60" stroke-linejoin="round"/>
</g>
<rect x="113.80" y="263.90" width="209.10" height="146.60" fill="none" stroke="#7a7a7a" stroke-width="1.2"/>
<line x1="113.80" y1="410.50" x2="113.80" y2="413.50" stroke="#555" stroke-width="0.8"/>
<line x1="110.80" y1="410.50" x2="113.80" y2="410.50" stroke="#555" stroke-width="0.8"/>
<line x1="155.62" y1="410.50" x2="155.62" y2="413.50" stroke="#555" stroke-width="0.8"/>
<line x1="110.80" y1="382.50" x2="113.80" y2="382.50" stroke="#555" stroke-width="0.8"/>
<line x1="197.44" y1="410.50" x2="197.44" y2="413.50" stroke="#555" stroke-width="0.8"/>
<line x1="110.80" y1="354.50" x2="113.80" y2="354.50" stroke="#555" stroke-width="0.8"/>
<line x1="239.26" y1="410.50" x2="239.26" y2="413.50" stroke="#555" stroke-width="0.8"/>
<line x1="110.80" y1="326.50" x2="113.80" y2="326.50" stroke="#555" stroke-width="0.8"/>
<line x1="281.08" y1="410.50" x2="281.08" y2="413.50" stroke="#555" stroke-width="0.8"/>
<line x1="110.80" y1="298.50" x2="113.80" y2="298.50" stroke="#555" stroke-width="0.8"/>
<line x1="322.90" y1="410.50" x2="322.90" y2="413.50" stroke="#555" stroke-width="0.8"/>
<line x1="110.80" y1="270.50" x2="113.80" y2="270.50" stroke="#555" stroke-width="0.8"/>
<rect x="191.10" y="334.10" width="128.50" height="73.20" rx="1.6" fill="#fff" fill-opacity="0.85" stroke="#d6d6d6" stroke-width="0.9"/>
<line x1="193.60" y1="339.90" x2="206.90" y2="339.90" stroke="#3a5cb4" stroke-width="1.20"/>
<line x1="193.60" y1="350.07" x2="206.90" y2="350.07" stroke="#42b045" stroke-width="1.20"/>
<line x1="193.60" y1="360.24" x2="206.90" y2="360.24" stroke="#da2430" stroke-width="1.20"/>
<line x1="193.60" y1="370.41" x2="206.90" y2="370.41" stroke="#6c3a9c" stroke-width="1.20"/>
<line x1="193.60" y1="380.58" x2="206.90" y2="380.58" stroke="#f4c030" stroke-width="1.20"/>
<line x1="193.60" y1="390.75" x2="206.90" y2="390.75" stroke="#44bce0" stroke-width="1.20"/>
<line x1="193.60" y1="400.92" x2="206.90" y2="400.92" stroke="#1f7526" stroke-width="1.20"/>
<clipPath id="clipD"><rect x="468.60" y="263.90" width="209.00" height="146.60"/></clipPath>
<g clip-path="url(#clipD)">
<line x1="468.60" y1="410.50" x2="677.60" y2="270.50" stroke="#000" stroke-width="1.50" stroke-dasharray="3.10 1.85"/>
<path d="M468.60,410.50L468.60,278.90L471.53,278.90L476.96,278.90L476.96,274.70L482.39,274.70L482.39,270.50" fill="none" stroke="#4262b0" stroke-width="1.30" stroke-linejoin="round"/>
<path d="M468.60,410.50L468.60,276.80L471.74,276.80L471.74,274.28L482.39,274.28L482.39,270.50" fill="none" stroke="#30d070" stroke-width="1.30" stroke-linejoin="round"/>
<path d="M468.60,410.50L468.60,340.50L469.65,340.50L469.65,302.70L472.78,302.70L472.78,281.00L494.93,281.00L494.93,270.50" fill="none" stroke="#e85068" stroke-width="1.30" stroke-linejoin="round"/>
<path d="M468.60,410.50L468.60,368.50L469.85,368.50L469.85,334.90L471.32,334.90L471.32,319.50L472.15,319.50L472.15,305.50L474.66,305.50L474.66,294.30L476.33,294.30L476.33,285.90L481.98,285.90L481.98,280.86L503.71,280.86L503.71,275.54L528.58,275.54L528.58,270.50" fill="none" stroke="#9a58d0" stroke-width="1.30" stroke-linejoin="round"/>
<path d="M468.60,410.50L468.60,340.50L470.06,340.50L470.06,277.50L471.94,277.50L471.94,270.50" fill="none" stroke="#e0c040" stroke-width="1.30" stroke-linejoin="round"/>
<path d="M468.60,410.50L468.60,326.50L469.85,326.50L469.85,276.10L473.41,276.10L473.41,270.50L677.60,270.50" fill="none" stroke="#38d0d8" stroke-width="1.30" stroke-linejoin="round"/>
<path d="M468.60,410.50L468.60,399.72L469.39,395.94L470.69,390.34L471.69,384.74L472.59,381.80L474.49,379.00L476.40,376.20L478.30,371.44L479.20,367.66L481.10,365.84L483.00,362.06L483.29,360.24L486.70,357.30L489.60,354.50L492.41,350.72L494.31,346.94L495.21,344.14L498.01,342.32L500.89,338.54L502.79,334.34L505.51,330.98L506.91,327.48L509.61,326.22L513.10,323.42L513.81,320.06L515.79,317.96L517.88,313.76L519.97,309.56L523.38,307.60L526.18,305.92L530.28,304.52L534.37,302.70L537.86,301.86L540.56,299.34L541.96,295.84L544.05,295.14L549.55,295.14L552.37,293.74L556.46,292.76L560.56,290.24L564.74,288.84L569.34,286.46L573.73,285.06L582.50,284.64L586.89,283.24L591.28,280.58L597.13,280.30L599.85,277.64L601.52,275.96L607.17,274.56L626.19,274.00L632.04,273.02L642.28,272.60L646.67,271.76L651.06,271.06L652.52,270.50L677.60,270.50" fill="none" stroke="#3f7f42" stroke-width="1.60" stroke-linejoin="round"/>
</g>
<rect x="468.60" y="263.90" width="209.00" height="146.60" fill="none" stroke="#7a7a7a" stroke-width="1.2"/>
<line x1="468.60" y1="410.50" x2="468.60" y2="413.50" stroke="#555" stroke-width="0.8"/>
<line x1="465.60" y1="410.50" x2="468.60" y2="410.50" stroke="#555" stroke-width="0.8"/>
<line x1="510.40" y1="410.50" x2="510.40" y2="413.50" stroke="#555" stroke-width="0.8"/>
<line x1="465.60" y1="382.50" x2="468.60" y2="382.50" stroke="#555" stroke-width="0.8"/>
<line x1="552.20" y1="410.50" x2="552.20" y2="413.50" stroke="#555" stroke-width="0.8"/>
<line x1="465.60" y1="354.50" x2="468.60" y2="354.50" stroke="#555" stroke-width="0.8"/>
<line x1="594.00" y1="410.50" x2="594.00" y2="413.50" stroke="#555" stroke-width="0.8"/>
<line x1="465.60" y1="326.50" x2="468.60" y2="326.50" stroke="#555" stroke-width="0.8"/>
<line x1="635.80" y1="410.50" x2="635.80" y2="413.50" stroke="#555" stroke-width="0.8"/>
<line x1="465.60" y1="298.50" x2="468.60" y2="298.50" stroke="#555" stroke-width="0.8"/>
<line x1="677.60" y1="410.50" x2="677.60" y2="413.50" stroke="#555" stroke-width="0.8"/>
<line x1="465.60" y1="270.50" x2="468.60" y2="270.50" stroke="#555" stroke-width="0.8"/>
<rect x="545.90" y="334.10" width="128.50" height="73.20" rx="1.6" fill="#fff" fill-opacity="0.85" stroke="#d6d6d6" stroke-width="0.9"/>
<line x1="548.40" y1="339.90" x2="561.70" y2="339.90" stroke="#2e4c90" stroke-width="1.30"/>
<line x1="548.40" y1="350.07" x2="561.70" y2="350.07" stroke="#20d848" stroke-width="1.30"/>
<line x1="548.40" y1="360.24" x2="561.70" y2="360.24" stroke="#982838" stroke-width="1.30"/>
<line x1="548.40" y1="370.41" x2="561.70" y2="370.41" stroke="#9440ec" stroke-width="1.30"/>
<line x1="548.40" y1="380.58" x2="561.70" y2="380.58" stroke="#dcc040" stroke-width="1.30"/>
<line x1="548.40" y1="390.75" x2="561.70" y2="390.75" stroke="#28dcf8" stroke-width="1.30"/>
<line x1="548.40" y1="400.92" x2="561.70" y2="400.92" stroke="#3a6e3c" stroke-width="1.30"/>
</g>
<g filter="url(#softt)">
<text x="113.50" y="188.90" text-anchor="middle" class="tk" textLength="9.86" lengthAdjust="spacingAndGlyphs">0.0</text>
<text x="109.00" y="181.20" text-anchor="end" class="tk" textLength="9.86" lengthAdjust="spacingAndGlyphs">0.0</text>
<text x="155.32" y="188.90" text-anchor="middle" class="tk" textLength="9.86" lengthAdjust="spacingAndGlyphs">0.2</text>
<text x="109.00" y="153.20" text-anchor="end" class="tk" textLength="9.86" lengthAdjust="spacingAndGlyphs">0.2</text>
<text x="197.14" y="188.90" text-anchor="middle" class="tk" textLength="9.86" lengthAdjust="spacingAndGlyphs">0.4</text>
<text x="109.00" y="125.20" text-anchor="end" class="tk" textLength="9.86" lengthAdjust="spacingAndGlyphs">0.4</text>
<text x="238.96" y="188.90" text-anchor="middle" class="tk" textLength="9.86" lengthAdjust="spacingAndGlyphs">0.6</text>
<text x="109.00" y="97.20" text-anchor="end" class="tk" textLength="9.86" lengthAdjust="spacingAndGlyphs">0.6</text>
<text x="280.78" y="188.90" text-anchor="middle" class="tk" textLength="9.86" lengthAdjust="spacingAndGlyphs">0.8</text>
<text x="109.00" y="69.20" text-anchor="end" class="tk" textLength="9.86" lengthAdjust="spacingAndGlyphs">0.8</text>
<text x="322.60" y="188.90" text-anchor="middle" class="tk" textLength="9.86" lengthAdjust="spacingAndGlyphs">1.0</text>
<text x="109.00" y="41.20" text-anchor="end" class="tk" textLength="9.86" lengthAdjust="spacingAndGlyphs">1.0</text>
<text x="218.35" y="197.80" text-anchor="middle" class="al" textLength="57.62" lengthAdjust="spacingAndGlyphs">False Positive Rate</text>
<text x="95.20" y="105.20" text-anchor="middle" class="al2" transform="rotate(-90 95.20 105.20)" textLength="59.06" lengthAdjust="spacingAndGlyphs">True Positive Rate</text>
<text x="211.40" y="110.20" class="lg" textLength="98.98" lengthAdjust="spacingAndGlyphs">RBBB (area = 0.994, F1 = 0.81)</text>
<text x="211.40" y="120.37" class="lg" textLength="98.13" lengthAdjust="spacingAndGlyphs">LBBB (area = 0.997, F1 = 0.81)</text>
<text x="211.40" y="130.54" class="lg" textLength="89.72" lengthAdjust="spacingAndGlyphs">AF (area = 0.994, F1 = 0.80)</text>
<text x="211.40" y="140.71" class="lg" textLength="101.82" lengthAdjust="spacingAndGlyphs">1dAVb (area = 0.982, F1 = 0.55)</text>
<text x="211.40" y="150.88" class="lg" textLength="90.10" lengthAdjust="spacingAndGlyphs">SB (area = 0.990, F1 = 0.65)</text>
<text x="211.40" y="161.05" class="lg" textLength="89.64" lengthAdjust="spacingAndGlyphs">ST (area = 0.994, F1 = 0.74)</text>
<text x="211.40" y="171.22" class="lg" textLength="104.76" lengthAdjust="spacingAndGlyphs">Gender (area = 0.934, F1 = 0.83)</text>
<text x="468.30" y="188.90" text-anchor="middle" class="tk" textLength="9.86" lengthAdjust="spacingAndGlyphs">0.0</text>
<text x="463.80" y="181.20" text-anchor="end" class="tk" textLength="9.86" lengthAdjust="spacingAndGlyphs">0.0</text>
<text x="510.10" y="188.90" text-anchor="middle" class="tk" textLength="9.86" lengthAdjust="spacingAndGlyphs">0.2</text>
<text x="463.80" y="153.20" text-anchor="end" class="tk" textLength="9.86" lengthAdjust="spacingAndGlyphs">0.2</text>
<text x="551.90" y="188.90" text-anchor="middle" class="tk" textLength="9.86" lengthAdjust="spacingAndGlyphs">0.4</text>
<text x="463.80" y="125.20" text-anchor="end" class="tk" textLength="9.86" lengthAdjust="spacingAndGlyphs">0.4</text>
<text x="593.70" y="188.90" text-anchor="middle" class="tk" textLength="9.86" lengthAdjust="spacingAndGlyphs">0.6</text>
<text x="463.80" y="97.20" text-anchor="end" class="tk" textLength="9.86" lengthAdjust="spacingAndGlyphs">0.6</text>
<text x="635.50" y="188.90" text-anchor="middle" class="tk" textLength="9.86" lengthAdjust="spacingAndGlyphs">0.8</text>
<text x="463.80" y="69.20" text-anchor="end" class="tk" textLength="9.86" lengthAdjust="spacingAndGlyphs">0.8</text>
<text x="677.30" y="188.90" text-anchor="middle" class="tk" textLength="9.86" lengthAdjust="spacingAndGlyphs">1.0</text>
<text x="463.80" y="41.20" text-anchor="end" class="tk" textLength="9.86" lengthAdjust="spacingAndGlyphs">1.0</text>
<text x="573.10" y="197.80" text-anchor="middle" class="al" textLength="57.62" lengthAdjust="spacingAndGlyphs">False Positive Rate</text>
<text x="450.00" y="105.20" text-anchor="middle" class="al2" transform="rotate(-90 450.00 105.20)" textLength="59.06" lengthAdjust="spacingAndGlyphs">True Positive Rate</text>
<text x="566.20" y="110.20" class="lg" textLength="98.98" lengthAdjust="spacingAndGlyphs">RBBB (area = 0.987, F1 = 0.78)</text>
<text x="566.20" y="120.37" class="lg" textLength="98.13" lengthAdjust="spacingAndGlyphs">LBBB (area = 0.994, F1 = 0.75)</text>
<text x="566.20" y="130.54" class="lg" textLength="89.72" lengthAdjust="spacingAndGlyphs">AF (area = 0.979, F1 = 0.58)</text>
<text x="566.20" y="140.71" class="lg" textLength="101.82" lengthAdjust="spacingAndGlyphs">1dAVb (area = 0.934, F1 = 0.28)</text>
<text x="566.20" y="150.88" class="lg" textLength="90.10" lengthAdjust="spacingAndGlyphs">SB (area = 0.990, F1 = 0.65)</text>
<text x="566.20" y="161.05" class="lg" textLength="89.64" lengthAdjust="spacingAndGlyphs">ST (area = 0.992, F1 = 0.73)</text>
<text x="566.20" y="171.22" class="lg" textLength="104.76" lengthAdjust="spacingAndGlyphs">Gender (area = 0.803, F1 = 0.68)</text>
<text x="113.50" y="420.90" text-anchor="middle" class="tk" textLength="9.86" lengthAdjust="spacingAndGlyphs">0.0</text>
<text x="109.00" y="413.20" text-anchor="end" class="tk" textLength="9.86" lengthAdjust="spacingAndGlyphs">0.0</text>
<text x="155.32" y="420.90" text-anchor="middle" class="tk" textLength="9.86" lengthAdjust="spacingAndGlyphs">0.2</text>
<text x="109.00" y="385.20" text-anchor="end" class="tk" textLength="9.86" lengthAdjust="spacingAndGlyphs">0.2</text>
<text x="197.14" y="420.90" text-anchor="middle" class="tk" textLength="9.86" lengthAdjust="spacingAndGlyphs">0.4</text>
<text x="109.00" y="357.20" text-anchor="end" class="tk" textLength="9.86" lengthAdjust="spacingAndGlyphs">0.4</text>
<text x="238.96" y="420.90" text-anchor="middle" class="tk" textLength="9.86" lengthAdjust="spacingAndGlyphs">0.6</text>
<text x="109.00" y="329.20" text-anchor="end" class="tk" textLength="9.86" lengthAdjust="spacingAndGlyphs">0.6</text>
<text x="280.78" y="420.90" text-anchor="middle" class="tk" textLength="9.86" lengthAdjust="spacingAndGlyphs">0.8</text>
<text x="109.00" y="301.20" text-anchor="end" class="tk" textLength="9.86" lengthAdjust="spacingAndGlyphs">0.8</text>
<text x="322.60" y="420.90" text-anchor="middle" class="tk" textLength="9.86" lengthAdjust="spacingAndGlyphs">1.0</text>
<text x="109.00" y="273.20" text-anchor="end" class="tk" textLength="9.86" lengthAdjust="spacingAndGlyphs">1.0</text>
<text x="218.35" y="429.80" text-anchor="middle" class="al" textLength="57.62" lengthAdjust="spacingAndGlyphs">False Positive Rate</text>
<text x="95.20" y="337.20" text-anchor="middle" class="al2" transform="rotate(-90 95.20 337.20)" textLength="59.06" lengthAdjust="spacingAndGlyphs">True Positive Rate</text>
<text x="211.40" y="342.20" class="lg" textLength="98.98" lengthAdjust="spacingAndGlyphs">RBBB (area = 0.995, F1 = 0.86)</text>
<text x="211.40" y="352.37" class="lg" textLength="98.13" lengthAdjust="spacingAndGlyphs">LBBB (area = 1.000, F1 = 1.00)</text>
<text x="211.40" y="362.54" class="lg" textLength="89.72" lengthAdjust="spacingAndGlyphs">AF (area = 0.997, F1 = 0.86)</text>
<text x="211.40" y="372.71" class="lg" textLength="101.82" lengthAdjust="spacingAndGlyphs">1dAVb (area = 0.995, F1 = 0.82)</text>
<text x="211.40" y="382.88" class="lg" textLength="90.10" lengthAdjust="spacingAndGlyphs">SB (area = 0.997, F1 = 0.89)</text>
<text x="211.40" y="393.05" class="lg" textLength="89.64" lengthAdjust="spacingAndGlyphs">ST (area = 0.998, F1 = 0.91)</text>
<text x="211.40" y="403.22" class="lg" textLength="104.76" lengthAdjust="spacingAndGlyphs">Gender (area = 0.890, F1 = 0.77)</text>
<text x="468.30" y="420.90" text-anchor="middle" class="tk" textLength="9.86" lengthAdjust="spacingAndGlyphs">0.0</text>
<text x="463.80" y="413.20" text-anchor="end" class="tk" textLength="9.86" lengthAdjust="spacingAndGlyphs">0.0</text>
<text x="510.10" y="420.90" text-anchor="middle" class="tk" textLength="9.86" lengthAdjust="spacingAndGlyphs">0.2</text>
<text x="463.80" y="385.20" text-anchor="end" class="tk" textLength="9.86" lengthAdjust="spacingAndGlyphs">0.2</text>
<text x="551.90" y="420.90" text-anchor="middle" class="tk" textLength="9.86" lengthAdjust="spacingAndGlyphs">0.4</text>
<text x="463.80" y="357.20" text-anchor="end" class="tk" textLength="9.86" lengthAdjust="spacingAndGlyphs">0.4</text>
<text x="593.70" y="420.90" text-anchor="middle" class="tk" textLength="9.86" lengthAdjust="spacingAndGlyphs">0.6</text>
<text x="463.80" y="329.20" text-anchor="end" class="tk" textLength="9.86" lengthAdjust="spacingAndGlyphs">0.6</text>
<text x="635.50" y="420.90" text-anchor="middle" class="tk" textLength="9.86" lengthAdjust="spacingAndGlyphs">0.8</text>
<text x="463.80" y="301.20" text-anchor="end" class="tk" textLength="9.86" lengthAdjust="spacingAndGlyphs">0.8</text>
<text x="677.30" y="420.90" text-anchor="middle" class="tk" textLength="9.86" lengthAdjust="spacingAndGlyphs">1.0</text>
<text x="463.80" y="273.20" text-anchor="end" class="tk" textLength="9.86" lengthAdjust="spacingAndGlyphs">1.0</text>
<text x="573.10" y="429.80" text-anchor="middle" class="al" textLength="57.62" lengthAdjust="spacingAndGlyphs">False Positive Rate</text>
<text x="450.00" y="337.20" text-anchor="middle" class="al2" transform="rotate(-90 450.00 337.20)" textLength="59.06" lengthAdjust="spacingAndGlyphs">True Positive Rate</text>
<text x="566.20" y="342.20" class="lg" textLength="98.98" lengthAdjust="spacingAndGlyphs">RBBB (area = 0.994, F1 = 0.89)</text>
<text x="566.20" y="352.37" class="lg" textLength="98.13" lengthAdjust="spacingAndGlyphs">LBBB (area = 0.997, F1 = 0.95)</text>
<text x="566.20" y="362.54" class="lg" textLength="89.72" lengthAdjust="spacingAndGlyphs">AF (area = 0.986, F1 = 0.71)</text>
<text x="566.20" y="372.71" class="lg" textLength="101.82" lengthAdjust="spacingAndGlyphs">1dAVb (area = 0.970, F1 = 0.63)</text>
<text x="566.20" y="382.88" class="lg" textLength="90.10" lengthAdjust="spacingAndGlyphs">SB (area = 0.996, F1 = 0.76)</text>
<text x="566.20" y="393.05" class="lg" textLength="89.64" lengthAdjust="spacingAndGlyphs">ST (area = 0.998, F1 = 0.93)</text>
<text x="566.20" y="403.22" class="lg" textLength="104.76" lengthAdjust="spacingAndGlyphs">Gender (area = 0.795, F1 = 0.69)</text>
<text transform="translate(161.40 8.80) scale(1.000 1)" class="ti ti2">Image Based Model</text>
<text transform="translate(515.40 10.90) scale(1.000 1)" class="ti ti2">Signal Based Model</text>
<text transform="translate(41.50 35.70) scale(1.000 1)" class="ti ti2">A.</text>
<text transform="translate(400.90 35.90) scale(1.000 1)" class="ti ti2">B.</text>
<text transform="translate(42.60 252.80) scale(1.000 1)" class="ti ti2">C.</text>
<text transform="translate(402.60 252.80) scale(1.000 1)" class="ti ti2">D.</text>
<text x="9.0" y="114.5" class="ti" text-anchor="middle" transform="rotate(-90 9.0 114.5)">Held-out Test Set</text>
<text x="12.4" y="339.3" class="ti" text-anchor="middle" transform="rotate(-90 12.4 339.3)">Cardiologist-Validated Test</text>
<text x="27.9" y="339.0" class="ti" text-anchor="middle" transform="rotate(-90 27.9 339.0)">Set</text>
</g>
</svg>
</body></html>
